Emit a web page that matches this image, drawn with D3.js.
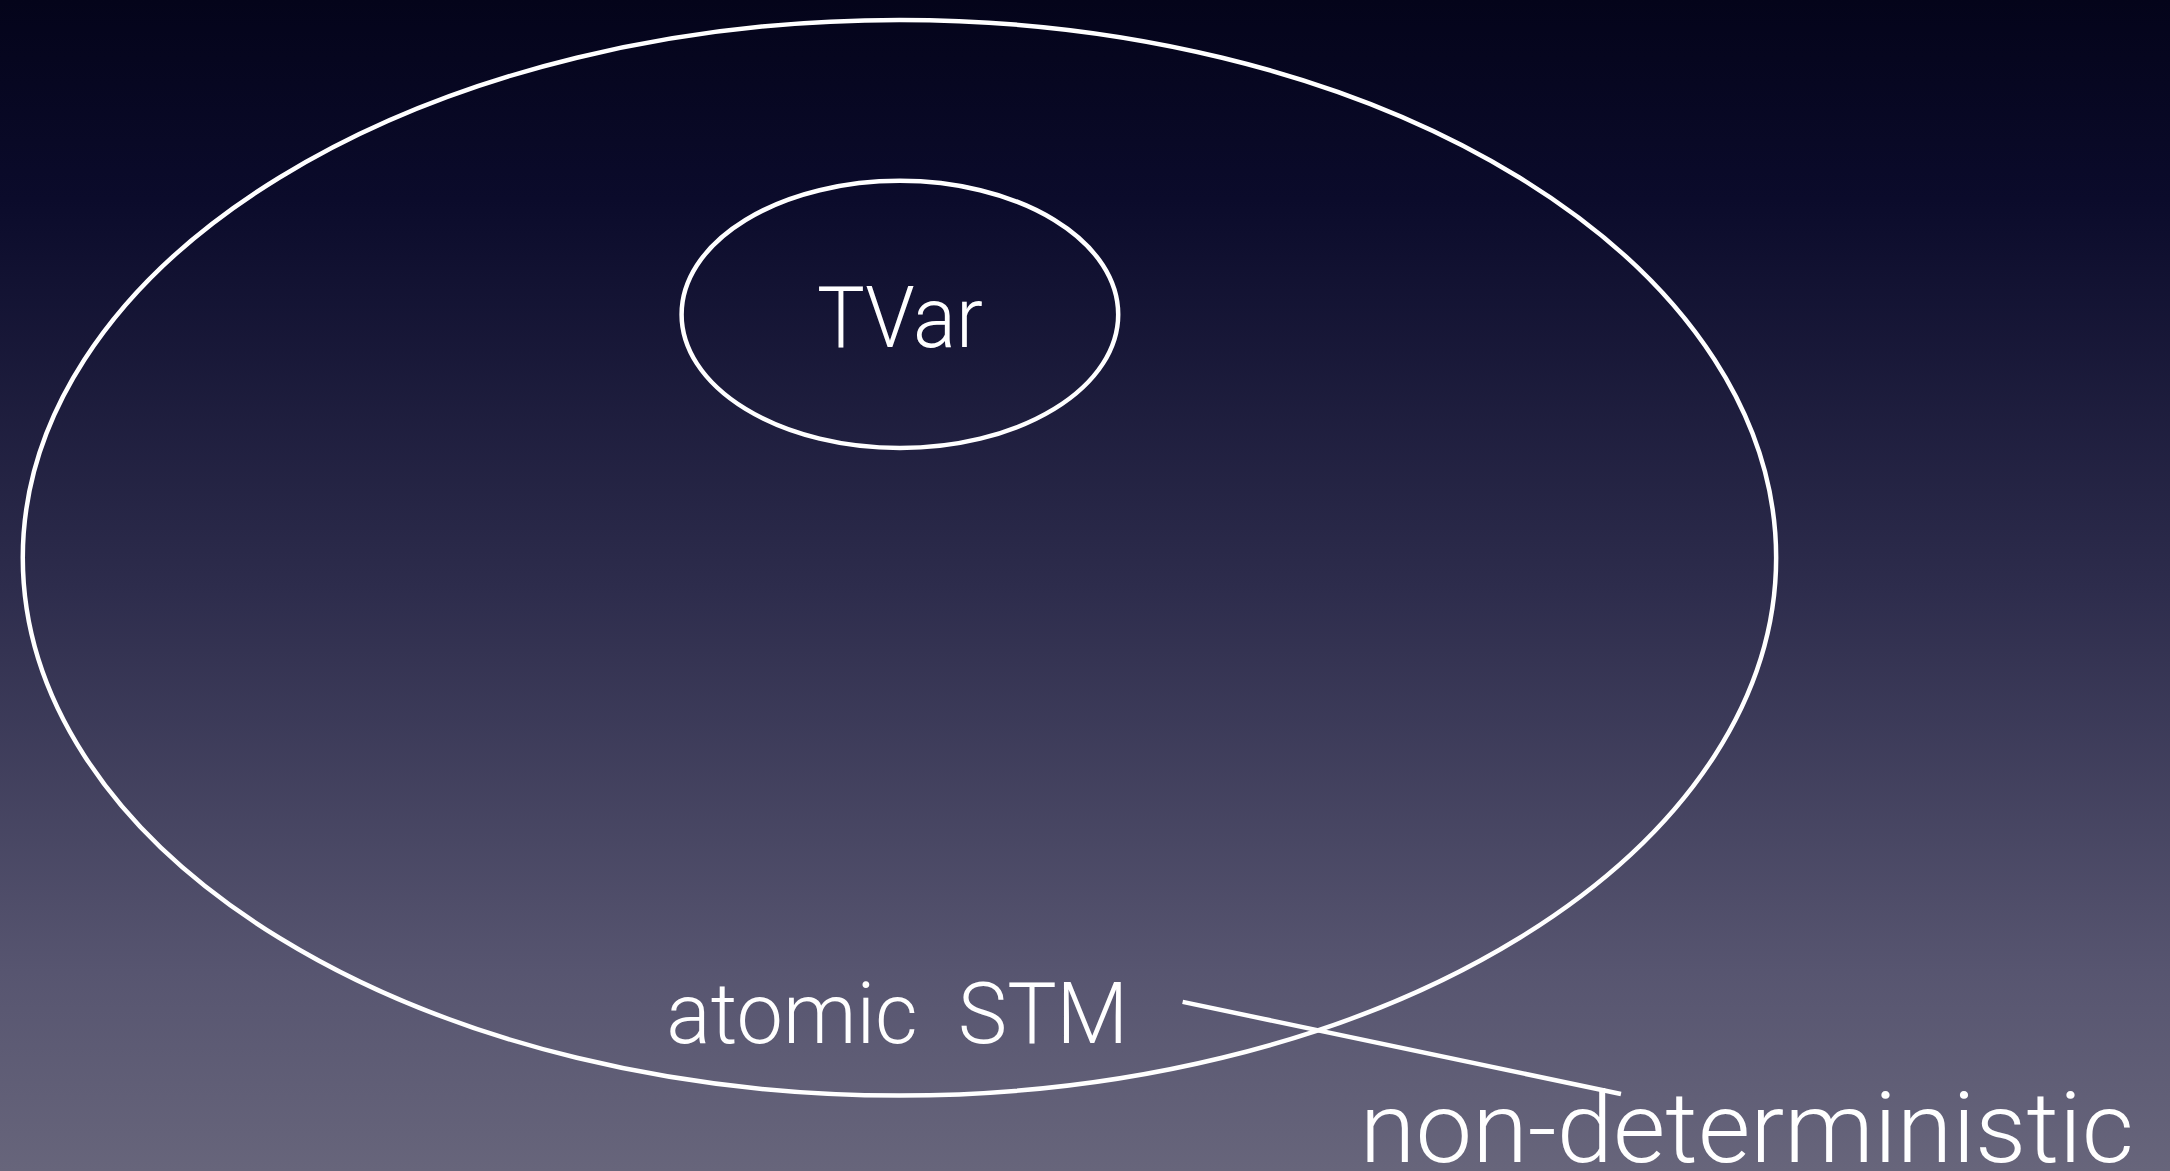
<!DOCTYPE html>
<html><head><meta charset="utf-8">
<script src="https://cdn.jsdelivr.net/npm/d3@7"></script>
<style>html,body{margin:0;padding:0;overflow:hidden;background:#05051a}</style>
</head><body>
<svg id="c" width="2170" height="1171"></svg>
<script>
// Sets (ellipses) in diagram units (0..100 wide, 0..54 tall)
const setNames = ["outer", "TVar"];
const setCx = [41.45, 41.47];
const setCy = [25.72, 14.5];
const setRx = [40.4, 10.06];
const setRy = [24.8, 6.16];
const labels = ["TVar", "atomic  STM", "non-deterministic"];
const labelX = [41.47, 41.35, 80.5];
const labelY = [16.0, 48.1, 53.6];
const labelSize = [86, 85, 98];
const labelLen = [166, 462, 774];
const connectorX = [54.5, 74.7];
const connectorY = [46.2, 50.45];
const gradStops = [[0, "#04041a"], [0.17, "#0b0b2b"], [0.5, "#2d2c4c"], [0.83, "#575570"], [1, "#67657b"]];

const W = 2170, H = 1171;
const x = d3.scaleLinear().domain([0, 100]).range([0, W]);
const y = d3.scaleLinear().domain([0, 54]).range([0, H]);
const k = W / 100;

const svg = d3.select("#c");
const defs = svg.append("defs");
const g = defs.append("linearGradient").attr("id", "bg").attr("x1", 0).attr("y1", 0).attr("x2", 0).attr("y2", 1);
g.selectAll("stop").data(gradStops).join("stop").attr("offset", d => d[0]).attr("stop-color", d => d[1]);
svg.append("rect").attr("width", W).attr("height", H).attr("fill", "url(#bg)");

svg.selectAll("ellipse.set").data(setNames).join("ellipse").attr("class", "set")
  .attr("cx", (d, i) => x(setCx[i])).attr("cy", (d, i) => y(setCy[i]))
  .attr("rx", (d, i) => setRx[i] * k).attr("ry", (d, i) => y(setRy[i]))
  .attr("fill", "none").attr("stroke", "#ffffff").attr("stroke-width", 4.5);

svg.append("line")
  .attr("x1", x(connectorX[0])).attr("y1", y(connectorY[0]))
  .attr("x2", x(connectorX[1])).attr("y2", y(connectorY[1]))
  .attr("stroke", "#ffffff").attr("stroke-width", 4.5);

svg.selectAll("text.lbl").data(labels).join("text").attr("class", "lbl")
  .attr("x", (d, i) => x(labelX[i])).attr("y", (d, i) => y(labelY[i]))
  .attr("text-anchor", "middle")
  .attr("font-family", "Roboto, 'Open Sans', sans-serif").attr("font-weight", 300)
  .attr("font-size", (d, i) => labelSize[i])
  .attr("textLength", (d, i) => labelLen[i]).attr("lengthAdjust", "spacingAndGlyphs")
  .style("white-space", "pre")
  .attr("fill", "#ffffff")
  .text(d => d);
</script>
</body></html>
